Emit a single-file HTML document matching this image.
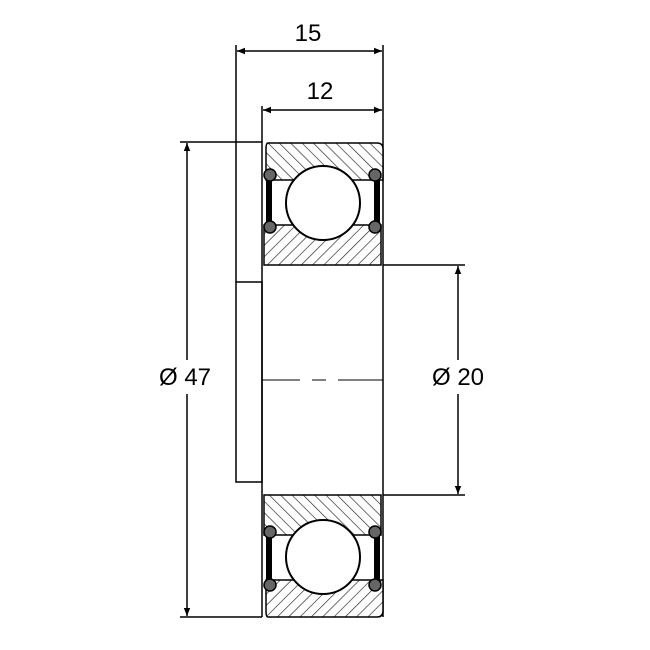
<!DOCTYPE html>
<html><head><style>html,body{margin:0;padding:0;background:#fff}svg{display:block}</style></head>
<body>
<svg width="650" height="650" viewBox="0 0 650 650" xmlns="http://www.w3.org/2000/svg">
<defs>
<pattern id="h" patternUnits="userSpaceOnUse" width="8" height="8" patternTransform="rotate(45)">
<rect width="8" height="8" fill="#fff"/><line x1="0" y1="0" x2="0" y2="8" stroke="#222" stroke-width="1.3"/>
</pattern>
<pattern id="h2" patternUnits="userSpaceOnUse" width="8" height="8" patternTransform="rotate(-45)">
<rect width="8" height="8" fill="#fff"/><line x1="0" y1="0" x2="0" y2="8" stroke="#222" stroke-width="1.3"/>
</pattern>
<marker id="a" viewBox="0 0 10 10" refX="10" refY="5" markerWidth="12" markerHeight="8" orient="auto-start-reverse" markerUnits="userSpaceOnUse">
<path d="M0,1 L10,5 L0,9 Z" fill="#000"/></marker>
</defs>
<g stroke="#000" fill="none" stroke-width="1.5">
<line x1="236" y1="45" x2="236" y2="282"/>
<line x1="383" y1="45" x2="383" y2="142"/>
<line x1="262" y1="106" x2="262" y2="142"/>
<line x1="237" y1="51" x2="382" y2="51" marker-start="url(#a)" marker-end="url(#a)"/>
<line x1="263" y1="110" x2="382" y2="110" marker-start="url(#a)" marker-end="url(#a)"/>
<line x1="180" y1="142" x2="262" y2="142"/>
<line x1="180" y1="617" x2="262" y2="617"/>
<line x1="187" y1="143" x2="187" y2="616" marker-start="url(#a)" marker-end="url(#a)"/>
<line x1="383" y1="265" x2="465" y2="265"/>
<line x1="383" y1="495" x2="465" y2="495"/>
<line x1="458" y1="266" x2="458" y2="494" marker-start="url(#a)" marker-end="url(#a)"/>
<rect x="236" y="282" width="26" height="200"/>
<line x1="262" y1="142" x2="262" y2="617"/>
<line x1="383" y1="142" x2="383" y2="617"/>
<line x1="262" y1="380" x2="300" y2="380" stroke-width="1"/>
<line x1="312" y1="380" x2="326" y2="380" stroke-width="1"/>
<line x1="338" y1="380" x2="383" y2="380" stroke-width="1"/>
</g>
<g stroke="#000" stroke-width="1.5">
<path d="M268,143 H377 Q383,143 383,149 V180 H266 V149 Q266,143 268,143 Z" fill="url(#h2)"/>
<path d="M264,225 H381 V265 H264 Z" fill="url(#h)"/>
<rect x="266" y="180" width="6" height="45" fill="#000" stroke="none"/>
<rect x="374" y="180" width="6" height="45" fill="#000" stroke="none"/>
<circle cx="270" cy="175" r="6" fill="#666"/><circle cx="375" cy="175" r="6" fill="#666"/>
<circle cx="270" cy="227" r="6" fill="#666"/><circle cx="375" cy="227" r="6" fill="#666"/>
<circle cx="323" cy="203" r="37" fill="#fff" stroke-width="2"/>
</g>
<g stroke="#000" stroke-width="1.5">
<path d="M264,495 H381 V535 H264 Z" fill="url(#h2)"/>
<path d="M266,580 H383 V611 Q383,617 377,617 H268 Q266,617 266,611 Z" fill="url(#h)"/>
<rect x="266" y="535" width="6" height="45" fill="#000" stroke="none"/>
<rect x="374" y="535" width="6" height="45" fill="#000" stroke="none"/>
<circle cx="270" cy="532" r="6" fill="#666"/><circle cx="375" cy="532" r="6" fill="#666"/>
<circle cx="270" cy="585" r="6" fill="#666"/><circle cx="375" cy="585" r="6" fill="#666"/>
<circle cx="323" cy="557" r="37" fill="#fff" stroke-width="2"/>
</g>
<rect x="152" y="360" width="66" height="34" fill="#fff"/>
<rect x="424" y="360" width="68" height="34" fill="#fff"/>
<g font-family="Liberation Sans, sans-serif" font-size="24" fill="#000">
<text x="308" y="41" text-anchor="middle">15</text>
<text x="320" y="99" text-anchor="middle">12</text>
<text x="185" y="385" text-anchor="middle">Ø 47</text>
<text x="458" y="385" text-anchor="middle">Ø 20</text>
</g>
</svg>
</body></html>
